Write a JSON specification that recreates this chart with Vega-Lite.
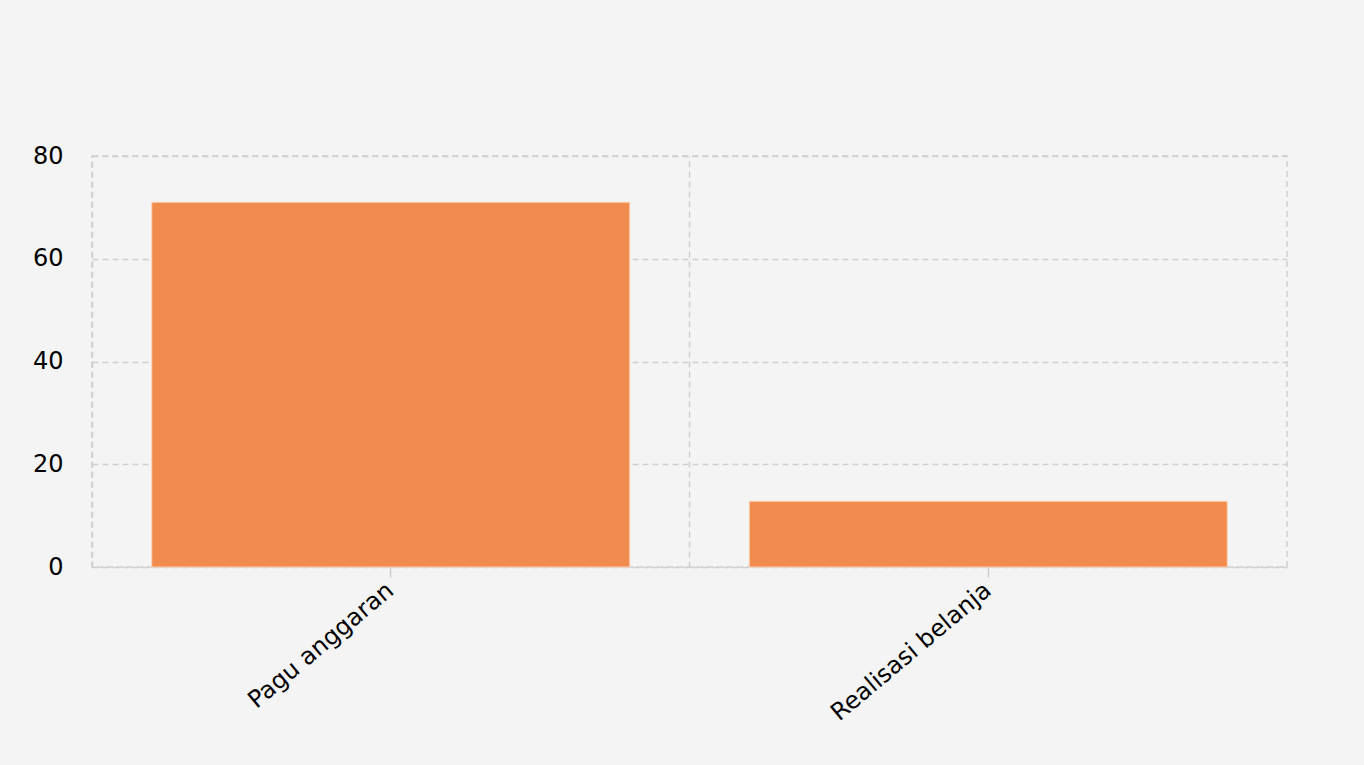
{
  "$schema": "https://vega.github.io/schema/vega-lite/v6.json",
  "autosize": "none",
  "width": 1195,
  "height": 411,
  "padding": {"left": 92, "top": 156, "right": 77, "bottom": 198},
  "background": "#f4f4f4",
  "config": {
    "font": "DejaVu Sans",
    "view": {"stroke": "#cfcfcf", "strokeDash": [6, 4], "strokeWidth": 1.5},
    "axis": {"gridColor": "#cfcfcf", "gridDash": [6, 4], "gridWidth": 1.5, "labelColor": "#000000", "labelFontSize": 24, "titleFontSize": 0}
  },
  "data": {"values": [
    {"kategori": "Pagu anggaran", "nilai": 71.0},
    {"kategori": "Realisasi belanja", "nilai": 12.8}
  ]},
  "encoding": {
    "y": {"field": "nilai", "type": "quantitative", "scale": {"domain": [0, 80], "nice": false},
      "axis": {"title": null, "values": [0, 20, 40, 60, 80], "grid": true, "ticks": false, "tickSize": 0, "domain": false, "labelPadding": 29, "labelFontSize": 24}}
  },
  "layer": [
    {
      "mark": {"type": "bar", "color": "#f28b4e", "stroke": "#fbd3b8", "strokeWidth": 1},
      "encoding": {
        "x": {"field": "kategori", "type": "nominal", "sort": null,
          "scale": {"paddingInner": 0.2, "paddingOuter": 0.1},
          "axis": {"title": null, "grid": false, "domain": false, "ticks": true, "tickColor": "#cfcfcf", "tickSize": 10, "tickWidth": 1.5, "labelAngle": -40, "labelAlign": "right", "labelBaseline": "middle", "labelPadding": 10, "labelFontSize": 24, "labelLimit": 500}}
      }
    },
    {
      "mark": {"type": "bar", "opacity": 0},
      "encoding": {
        "x": {"field": "kategori", "type": "nominal", "sort": null,
          "axis": {"title": null, "grid": true, "bandPosition": -0.125, "labels": false, "ticks": false, "domain": false}}
      }
    }
  ],
  "resolve": {"axis": {"x": "independent"}}
}
